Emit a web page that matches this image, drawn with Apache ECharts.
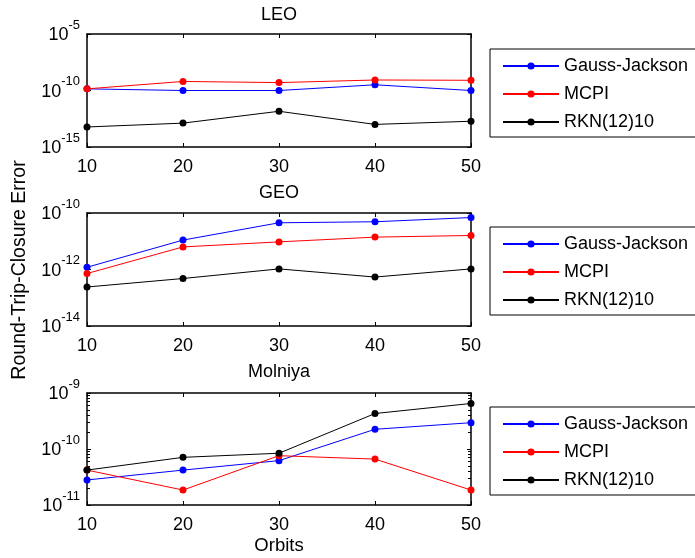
<!DOCTYPE html>
<html>
<head>
<meta charset="utf-8">
<script src="https://cdn.jsdelivr.net/npm/echarts@6/dist/echarts.min.js"></script>
<style>
html,body{margin:0;padding:0;background:#fff;}
#c{width:695px;height:558px;}
</style>
</head>
<body>
<div id="c"></div>
<script>
var orbits = [10, 20, 30, 40, 50];
var seriesNames = ['Gauss-Jackson', 'MCPI', 'RKN(12)10'];
var panelTitles = ['LEO', 'GEO', 'Molniya'];

var leoGJ   = [1.4e-10, 1.0e-10, 1.0e-10, 3.2e-10, 1.0e-10];
var leoMCPI = [1.4e-10, 6.3e-10, 5.0e-10, 8.5e-10, 8.0e-10];
var leoRKN  = [5.9e-14, 1.3e-13, 1.45e-12, 1.0e-13, 1.9e-13];

var geoGJ   = [1.2e-12, 1.1e-11, 4.5e-11, 4.9e-11, 6.9e-11];
var geoMCPI = [7.2e-13, 6.3e-12, 9.5e-12, 1.4e-11, 1.6e-11];
var geoRKN  = [2.4e-13, 4.8e-13, 1.05e-12, 5.4e-13, 1.05e-12];

var molGJ   = [2.8e-11, 4.2e-11, 6.2e-11, 2.25e-10, 2.95e-10];
var molMCPI = [4.2e-11, 1.85e-11, 7.6e-11, 6.6e-11, 1.85e-11];
var molRKN  = [4.2e-11, 7.1e-11, 8.4e-11, 4.3e-10, 6.5e-10];

// y-axis extents (powers of ten) and tick step in decades
var yMinExp = [-15, -14, -11];
var yMaxExp = [-5, -10, -9];
var yStepExp = [5, 2, 1];

var panelData = [
  [leoGJ, leoMCPI, leoRKN],
  [geoGJ, geoMCPI, geoRKN],
  [molGJ, molMCPI, molRKN]
];

var colors = ['#0000ff', '#ff0000', '#000000'];
var FONT = 'Liberation Sans, Arial, sans-serif';

var gridTops = [34, 213, 393];
var gridH = [113, 113, 112];
var gridLeft = 87, gridW = 384;
var legendTops = [49, 227, 407];

var grids = [], xAxes = [], yAxes = [], series = [], legends = [], graphics = [];

function logLabel(v) {
  var e = Math.round(Math.log10(v));
  return '{b|10}{e|' + e + '}';
}
var richLab = {
  b: {fontSize: 18, fontFamily: FONT, color: '#000', lineHeight: 26, verticalAlign: 'bottom'},
  e: {fontSize: 13, fontFamily: FONT, color: '#000', lineHeight: 13, verticalAlign: 'top'}
};

for (var i = 0; i < 3; i++) {
  grids.push({left: gridLeft, top: gridTops[i], width: gridW, height: gridH[i], containLabel: false, show: false});
  var axLine = {show: true, lineStyle: {color: '#000', width: 1.5}};
  xAxes.push({
    type: 'value', gridIndex: i, position: 'bottom', min: 10, max: 50, interval: 10,
    axisLine: axLine, splitLine: {show: false},
    axisTick: {show: true, inside: true, length: 4, lineStyle: {color: '#000', width: 1}},
    axisLabel: {fontSize: 18, fontFamily: FONT, color: '#000', margin: 11}
  });
  xAxes.push({
    type: 'value', gridIndex: i, position: 'top', min: 10, max: 50, interval: 10,
    axisLine: axLine, splitLine: {show: false},
    axisTick: {show: true, inside: true, length: 4, lineStyle: {color: '#000', width: 1}},
    axisLabel: {show: false}
  });
  var ymin = Math.pow(10, yMinExp[i]), ymax = Math.pow(10, yMaxExp[i]);
  var minor = (i === 2) ? {show: true, splitNumber: 9, length: 3, lineStyle: {color: '#000', width: 1}} : {show: false};
  yAxes.push({
    type: 'log', logBase: 10, gridIndex: i, position: 'left', min: ymin, max: ymax, interval: yStepExp[i],
    axisLine: axLine, splitLine: {show: false},
    axisTick: {show: true, inside: true, length: 4, lineStyle: {color: '#000', width: 1}},
    minorTick: minor,
    axisLabel: {formatter: logLabel, rich: richLab, margin: 7, padding: [0, 0, 5, 0]}
  });
  yAxes.push({
    type: 'log', logBase: 10, gridIndex: i, position: 'right', min: ymin, max: ymax, interval: yStepExp[i],
    axisLine: axLine, splitLine: {show: false},
    axisTick: {show: true, inside: true, length: 4, lineStyle: {color: '#000', width: 1}},
    minorTick: minor,
    axisLabel: {show: false}
  });
  for (var s = 0; s < 3; s++) {
    var vals = panelData[i][s];
    series.push({
      name: seriesNames[s], type: 'line', xAxisIndex: 2 * i, yAxisIndex: 2 * i,
      data: orbits.map(function (x, k) { return [x, vals[k]]; }),
      symbol: 'circle', symbolSize: 7, color: colors[s],
      lineStyle: {color: colors[s], width: 1}, itemStyle: {color: colors[s]},
      animation: false, z: 2 + s
    });
  }
  legends.push({
    orient: 'vertical', left: 490, top: legendTops[i],
    data: seriesNames.slice(),
    itemWidth: 56, itemHeight: 9, itemGap: 10,
    padding: [8, 40, 6, 12],
    borderColor: '#000', borderWidth: 1, backgroundColor: '#fff',
    selectedMode: false,
    textStyle: {fontSize: 18, fontFamily: FONT, color: '#000', lineHeight: 18}
  });
  graphics.push({
    type: 'text', x: gridLeft + gridW / 2, y: [15, 193, 372][i],
    style: {text: panelTitles[i], fontSize: 18, fontFamily: FONT, fill: '#000', textAlign: 'center', textVerticalAlign: 'middle'}
  });
}
graphics.push({
  type: 'text', x: 20, y: 270, rotation: Math.PI / 2,
  style: {text: 'Round-Trip-Closure Error', fontSize: 19.5, fontFamily: FONT, fill: '#000', textAlign: 'center', textVerticalAlign: 'middle'}
});
graphics.push({
  type: 'text', x: gridLeft + gridW / 2, y: 546,
  style: {text: 'Orbits', fontSize: 18.5, fontFamily: FONT, fill: '#000', textAlign: 'center', textVerticalAlign: 'middle'}
});

var chart = echarts.init(document.getElementById('c'), null, {renderer: 'canvas'});
chart.setOption({
  animation: false,
  backgroundColor: '#fff',
  grid: grids, xAxis: xAxes, yAxis: yAxes, series: series, legend: legends, graphic: graphics
});
</script>
</body>
</html>
